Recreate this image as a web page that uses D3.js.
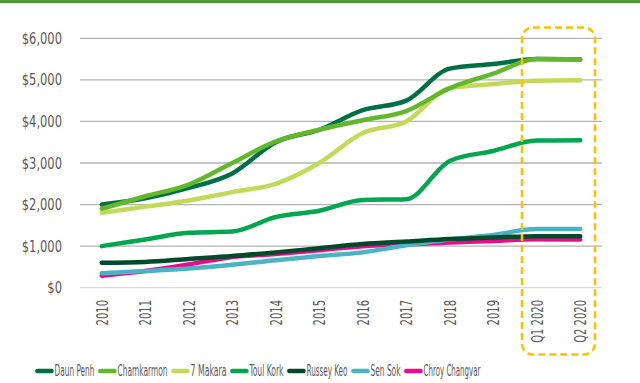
<!DOCTYPE html>
<html><head><meta charset="utf-8">
<script src="https://cdn.jsdelivr.net/npm/d3@7"></script>
<style>
html,body{margin:0;padding:0;background:#fff;}
svg{display:block;}
</style></head>
<body>
<svg id="c" width="640" height="383"></svg>
<script>
const categories = ["2010","2011","2012","2013","2014","2015","2016","2017","2018","2019","Q1 2020","Q2 2020"];
const seriesNames = ["Daun Penh","Chamkarmon","7 Makara","Toul Kork","Russey Keo","Sen Sok","Chroy Changvar"];
const seriesColors = ["#006f45","#62b82a","#c2da57","#00a650","#004a2c","#4bb4c3","#ec0a8c"];
const daunPenh     = [2000,2150,2400,2750,3500,3800,4270,4500,5270,5380,5500,5490];
const chamkarmon   = [1900,2200,2480,3000,3520,3800,4030,4250,4800,5150,5500,5490];
const sevenMakara  = [1800,1950,2100,2300,2500,3000,3720,4000,4800,4900,4980,4990];
const toulKork     = [1000,1160,1320,1350,1700,1850,2110,2130,3050,3290,3540,3550];
const russeyKeo    = [600,620,690,760,850,950,1050,1110,1170,1210,1240,1240];
const senSok       = [350,400,460,550,660,760,850,1020,1160,1270,1410,1410];
const chroyChangvar= [290,400,560,740,810,900,1000,1040,1090,1125,1165,1160];
const yTicks = [0,1000,2000,3000,4000,5000,6000];
const seriesValues = [daunPenh,chamkarmon,sevenMakara,toulKork,russeyKeo,senSok,chroyChangvar];

// layout constants (pixel widths of the condensed legend labels)
const legendTextWidths = [40,50,36,34,41,30,57];

const svg = d3.select("#c");
const FONT = "'DejaVu Sans Condensed','DejaVu Sans',sans-serif";

// top band
svg.append("rect").attr("x",0).attr("y",0).attr("width",640).attr("height",3).attr("fill","#4e9a2e");

const x = d3.scalePoint().domain(categories).range([80,602]).padding(0.5);
const y = d3.scaleLinear().domain([0,6000]).range([287.7,38.3]);

// gridlines
svg.append("g").selectAll("line").data(yTicks).join("line")
  .attr("x1",80).attr("x2",602)
  .attr("y1",d=>y(d)).attr("y2",d=>y(d))
  .attr("stroke",d=> d===0 ? "#d9d9d9" : "#b3b3b3").attr("stroke-width",1.3);

// y labels
const yAxis = d3.axisLeft(y).tickValues(yTicks).tickSize(0).tickPadding(0)
  .tickFormat(d=>"$"+d3.format(",")(d));
const gy = svg.append("g").attr("transform","translate(62,0)").call(yAxis);
gy.select(".domain").remove();
gy.selectAll(".tick text").attr("font-family",FONT).attr("font-size",16).attr("fill","#595959")
  .attr("x",0).attr("transform","scale(0.8,1)");

// x labels
const xAxis = d3.axisBottom(x).tickSize(0).tickPadding(0);
const gx = svg.append("g").attr("transform","translate(0,300)").call(xAxis);
gx.select(".domain").remove();
gx.selectAll(".tick text")
  .attr("font-family",FONT).attr("font-size",15).attr("fill","#595959")
  .attr("text-anchor","end").attr("x",0).attr("y",0).attr("dy","0.35em")
  .attr("transform","rotate(-90) scale(0.74,1)");

// lines
const line = d3.line().x((d,i)=>x(categories[i])).y(d=>y(d)).curve(d3.curveMonotoneX);
const order = [6,5,4,3,2,0,1];
svg.append("g").selectAll("path").data(order).join("path")
  .attr("d",k=>line(seriesValues[k]))
  .attr("fill","none").attr("stroke",k=>seriesColors[k])
  .attr("stroke-width",4.5).attr("stroke-linecap","round").attr("stroke-linejoin","round");

// dashed highlight box
svg.append("rect").attr("x",522).attr("y",27.5).attr("width",73).attr("height",327)
  .attr("rx",11).attr("ry",11).attr("fill","none")
  .attr("stroke","#ffc000").attr("stroke-width",2.6).attr("stroke-dasharray","7,4");

// legend
const lg = svg.append("g").attr("transform","translate(35,371)");
let cx = 0;
seriesNames.forEach((n,i)=>{
  lg.append("line").attr("x1",cx+2.3).attr("x2",cx+16.5).attr("y1",0).attr("y2",0)
    .attr("stroke",seriesColors[i]).attr("stroke-width",4.5).attr("stroke-linecap","round");
  const t = lg.append("text").attr("x",0).attr("y",0).attr("dy","0.36em")
    .attr("font-family",FONT).attr("font-size",15).attr("fill","#595959").text(n);
  const nat = t.node().getComputedTextLength();
  const w = legendTextWidths[i];
  t.attr("transform",`translate(${cx+19.5},0) scale(${w/nat},1)`);
  cx += 19.5 + w + 3.5;
});
</script>
</body></html>
